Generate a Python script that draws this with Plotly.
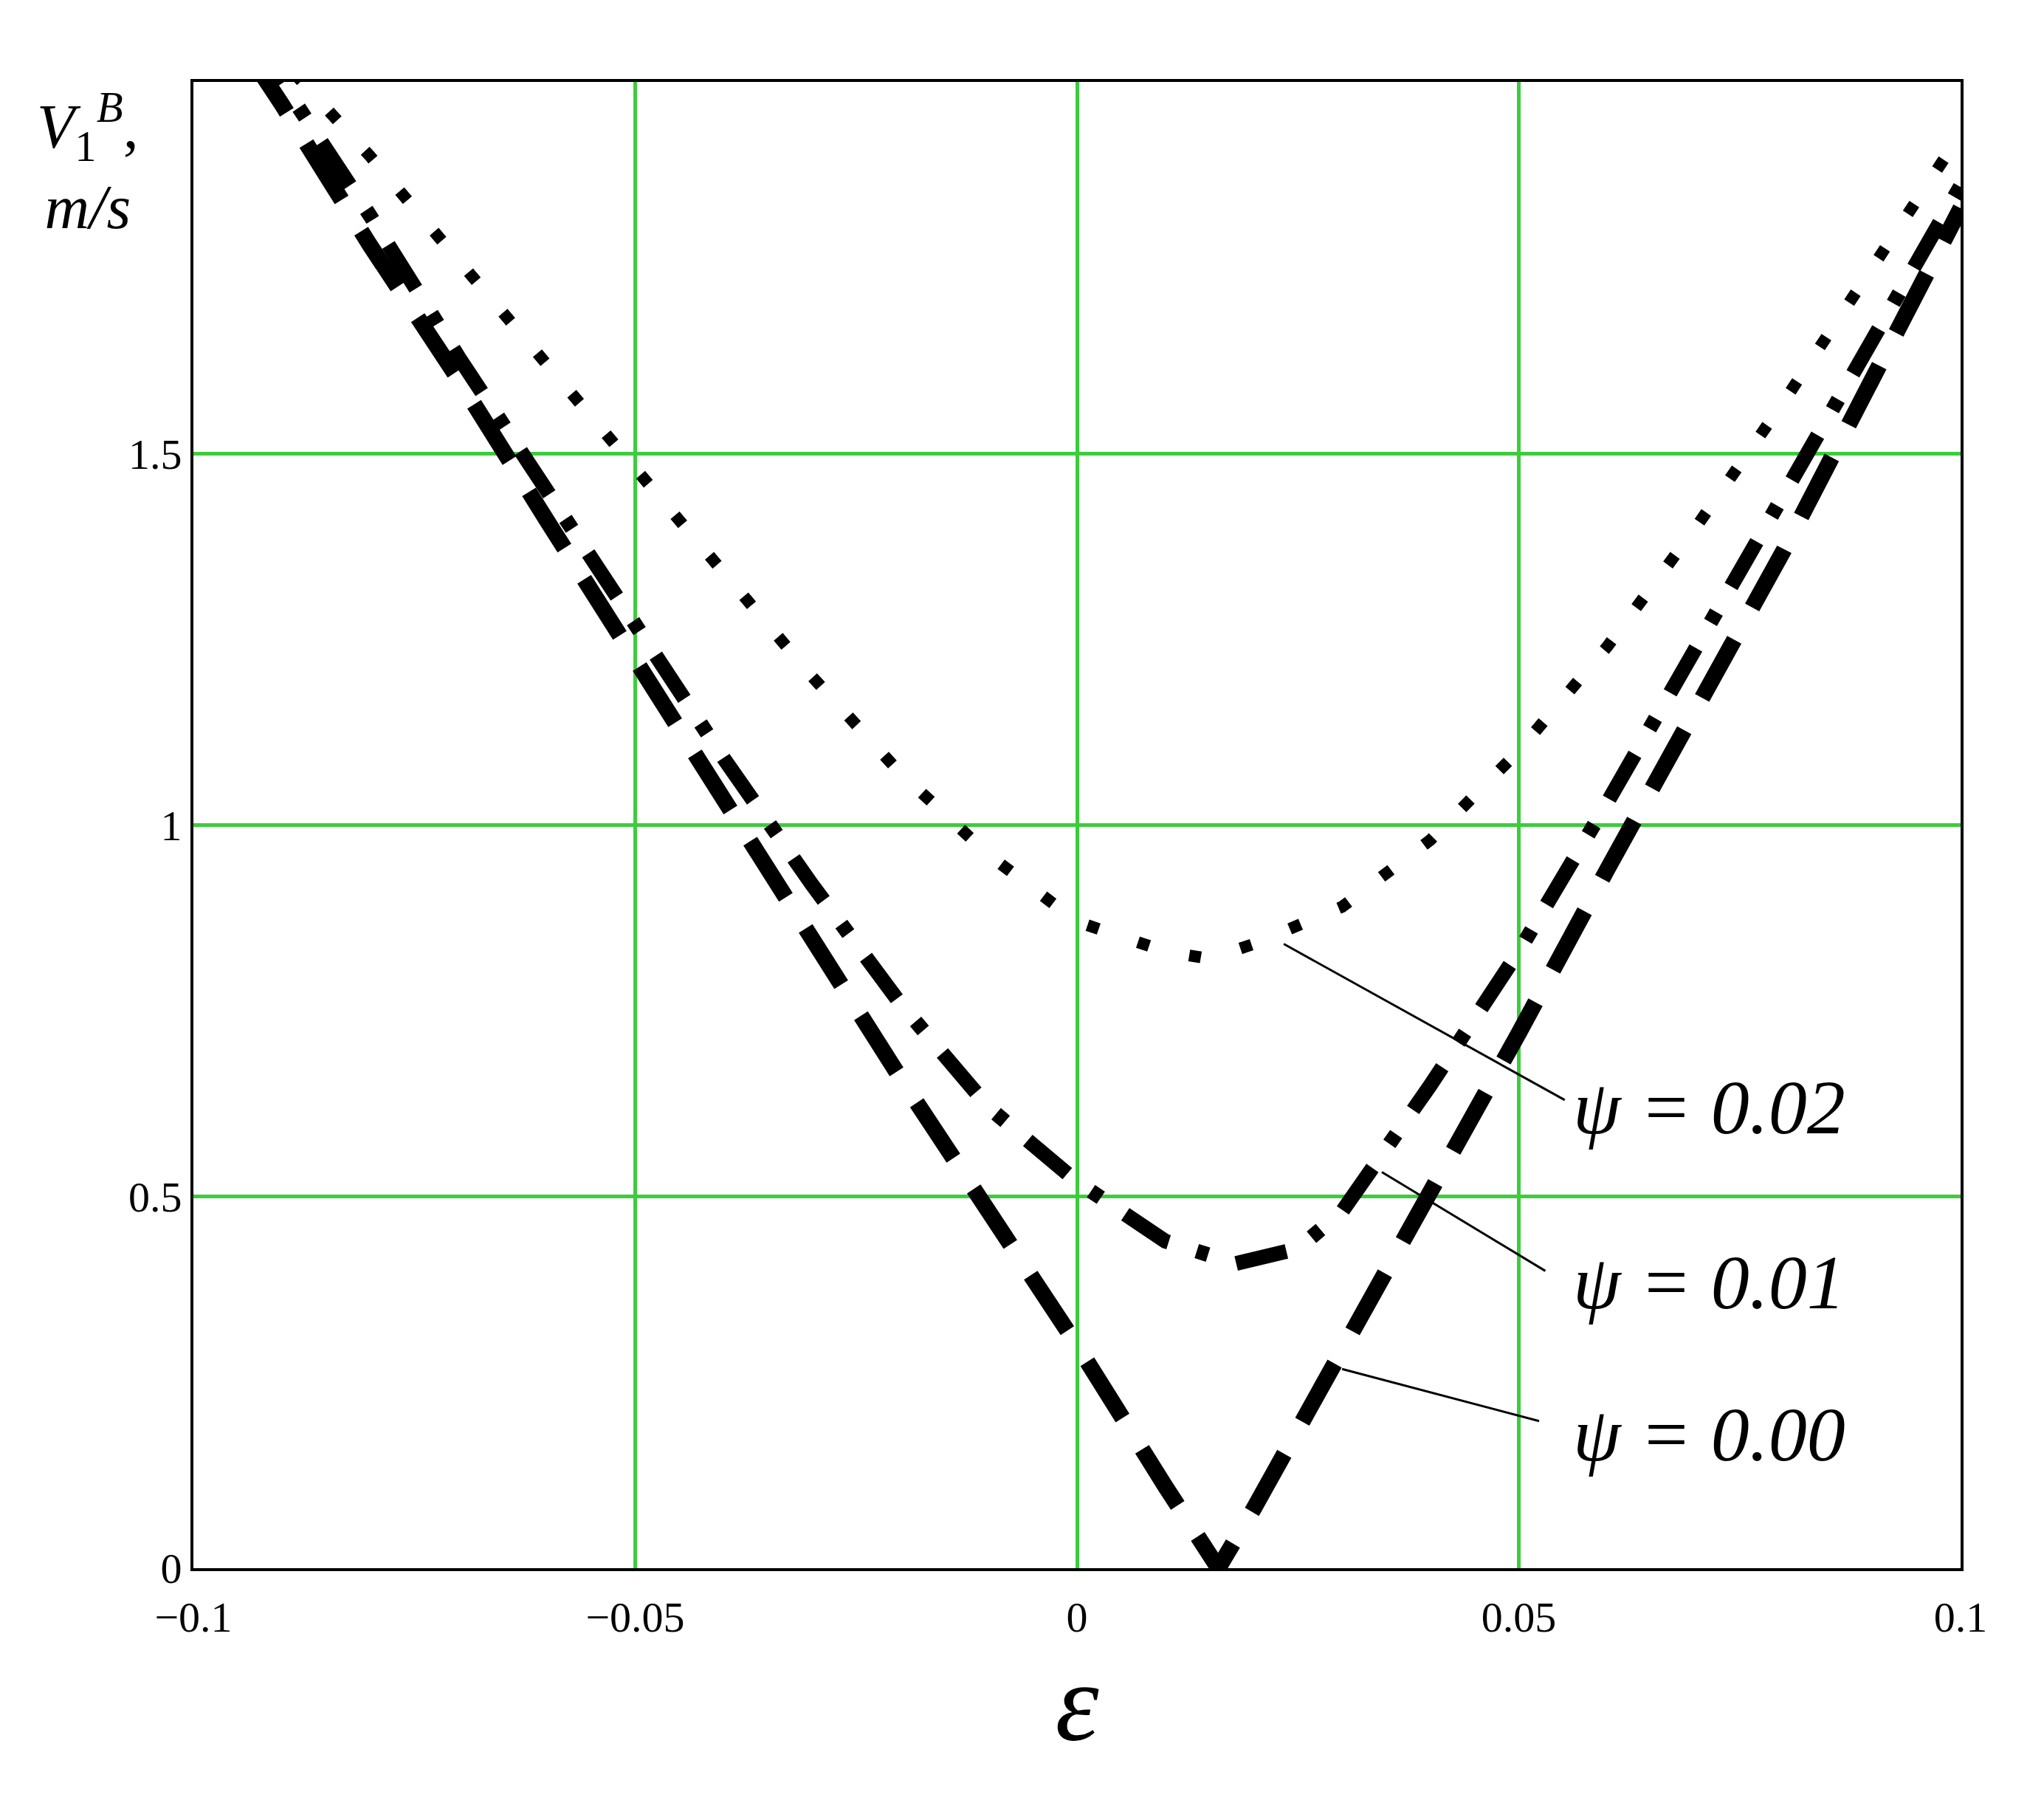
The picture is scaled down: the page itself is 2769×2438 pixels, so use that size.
import plotly.graph_objects as go

eps = [-0.1, -0.09, -0.08, -0.07, -0.06, -0.05, -0.04, -0.03, -0.02, -0.01, 0.0,
       0.01, 0.016, 0.02, 0.03, 0.04, 0.05, 0.06, 0.07, 0.08, 0.09, 0.1]
v_psi000 = [2.15, 1.97, 1.78, 1.60, 1.41, 1.22, 1.03, 0.85, 0.66, 0.48, 0.30,
            0.11, 0.0, 0.08, 0.29, 0.50, 0.72, 0.94, 1.15, 1.37, 1.60, 1.83]

eps1 = [-0.1, -0.09, -0.08, -0.07, -0.06, -0.05, -0.04, -0.03, -0.02, -0.01, 0.0,
        0.01, 0.018, 0.025, 0.03, 0.04, 0.05, 0.06, 0.07, 0.08, 0.09, 0.1]
v_psi001 = [2.2, 2.0, 1.82, 1.63, 1.45, 1.27, 1.09, 0.92, 0.76, 0.62, 0.52,
            0.44, 0.41, 0.43, 0.48, 0.65, 0.83, 1.03, 1.24, 1.45, 1.65, 1.86]

eps2 = [-0.1, -0.09, -0.08, -0.07, -0.06, -0.05, -0.04, -0.03, -0.02, -0.01, 0.0,
        0.01, 0.015, 0.02, 0.03, 0.04, 0.05, 0.06, 0.07, 0.08, 0.09, 0.1]
v_psi002 = [2.18, 2.03, 1.9, 1.76, 1.62, 1.48, 1.34, 1.2, 1.07, 0.96, 0.87,
            0.83, 0.82, 0.84, 0.89, 0.98, 1.1, 1.24, 1.4, 1.57, 1.75, 1.93]

labels = ["ψ = 0.02", "ψ = 0.01", "ψ = 0.00"]
label_y = [0.62, 0.385, 0.18]
leader_from = [(0.0234, 0.84), (0.0345, 0.533), (0.030, 0.268)]
leader_to = [(0.0552, 0.63), (0.053, 0.40), (0.0523, 0.198)]

serif = "Liberation Serif, Times New Roman, serif"

fig = go.Figure()
fig.add_trace(go.Scatter(x=eps, y=v_psi000, mode="lines",
                         line=dict(color="black", width=22, dash="90px,50px")))
fig.add_trace(go.Scatter(x=eps1, y=v_psi001, mode="lines",
                         line=dict(color="black", width=20, dash="70px,40px,16px,40px")))
fig.add_trace(go.Scatter(x=eps2, y=v_psi002, mode="lines",
                         line=dict(color="black", width=16, dash="16px,56px")))

for (x0, y0), (x1, y1) in zip(leader_from, leader_to):
    fig.add_shape(type="line", x0=x0, y0=y0, x1=x1, y1=y1,
                  line=dict(color="black", width=3))
for t, y in zip(labels, label_y):
    fig.add_annotation(x=0.056, y=y, text="<i>" + t + "</i>", showarrow=False, xanchor="left",
                       font=dict(family=serif, size=104, color="black"))

fig.add_annotation(xref="paper", yref="paper", x=-0.03, y=1.0, xanchor="right", yanchor="top",
                   text="<i>V</i><sub>1</sub><sup><i>B</i></sup>,<br><i>m/s</i>",
                   showarrow=False, align="center",
                   font=dict(family=serif, size=84, color="black"))

fig.update_xaxes(range=[-0.1, 0.1], tickvals=[-0.1, -0.05, 0, 0.05, 0.1],
                 ticktext=["−0.1", "−0.05", "0", "0.05", "0.1"],
                 showgrid=True, gridcolor="#3ccc3c", gridwidth=5, zeroline=False,
                 showline=True, linecolor="black", linewidth=4, mirror=True,
                 ticks="", ticklabelstandoff=12,
                 tickfont=dict(family=serif, size=58, color="black"),
                 title=dict(text="<i>ε</i>", font=dict(family=serif, size=150, color="black"),
                            standoff=30))
fig.update_yaxes(range=[0, 2], tickvals=[0, 0.5, 1, 1.5], ticktext=["0", "0.5", "1", "1.5"],
                 showgrid=True, gridcolor="#3ccc3c", gridwidth=5, zeroline=False,
                 showline=True, linecolor="black", linewidth=4, mirror=True,
                 ticks="", tickfont=dict(family=serif, size=58, color="black"))
fig.update_layout(width=2769, height=2438, showlegend=False,
                  plot_bgcolor="white", paper_bgcolor="white",
                  margin=dict(l=254, r=121, t=103, b=322))
fig.write_html("out.html")
